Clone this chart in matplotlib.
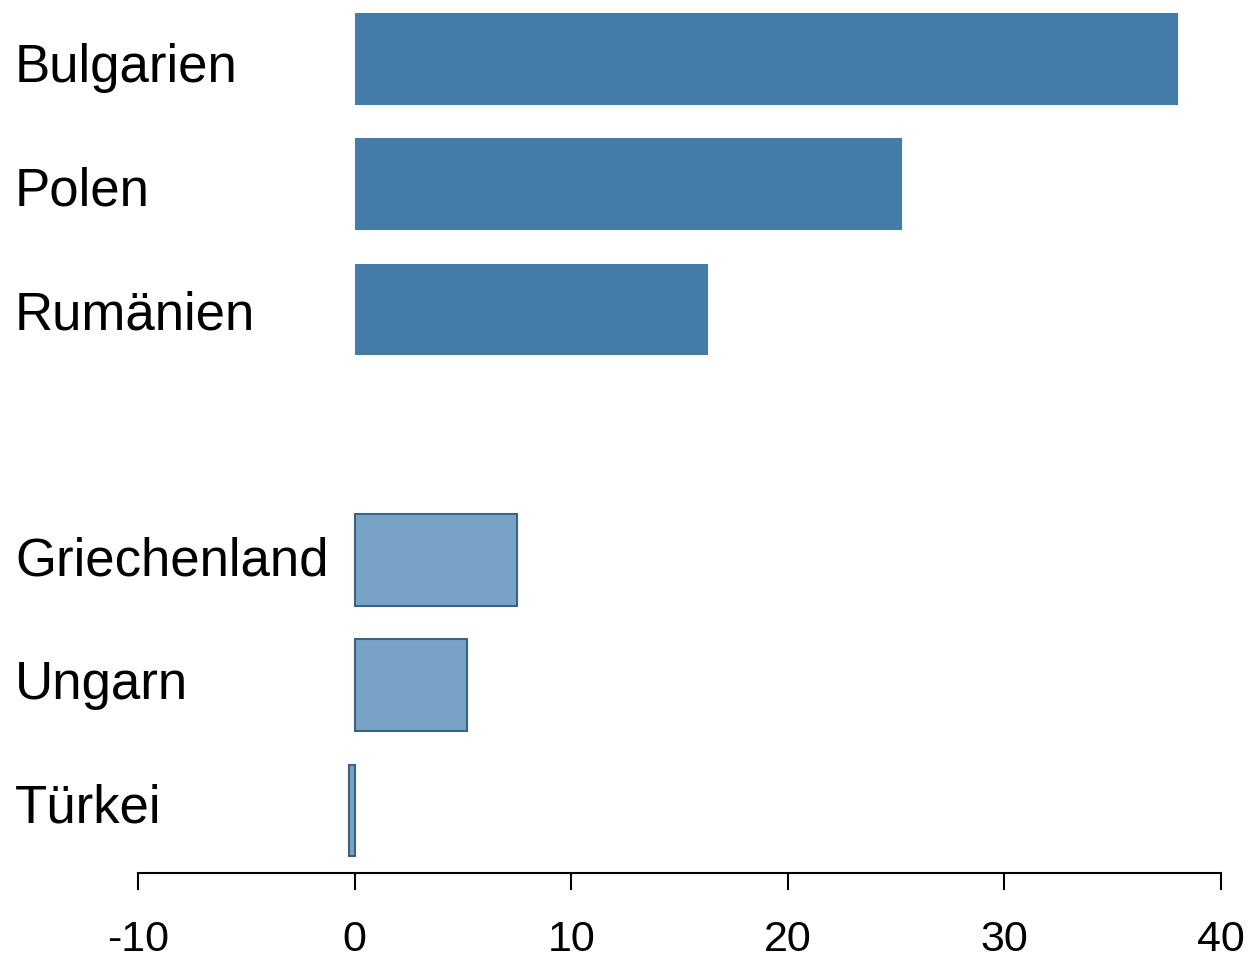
import matplotlib
matplotlib.use('Agg')
import matplotlib.pyplot as plt
from matplotlib.transforms import blended_transform_factory

# Data
countries = ['Bulgarien', 'Polen', 'Rumänien', 'Griechenland', 'Ungarn', 'Türkei']
values = [38.0, 25.25, 16.3, 7.5, 5.17, -0.28]
positions = [0, 1, 2, 4, 5, 6]
group = ['dark', 'dark', 'dark', 'light', 'light', 'light']
xticks = [-10, 0, 10, 20, 30, 40]

plt.rcParams['font.family'] = ['Liberation Sans', 'DejaVu Sans']

fig = plt.figure(figsize=(12.5, 9.58), dpi=100)
ax = fig.add_axes([138 / 1250, 85 / 958, 1083 / 1250, 873 / 958])

for pos, val, g in zip(positions, values, group):
    if g == 'dark':
        ax.barh(pos, val, height=0.73, color='#447CA8', edgecolor='none')
    else:
        ax.barh(pos, val, height=0.73, color='#78A3C7', edgecolor='#3A6186', linewidth=1.5)

ax.set_xlim(-10, 40)
ax.set_ylim(6.5, -0.47)

# country labels at the left edge of the figure, placed by baseline
trans = blended_transform_factory(fig.transFigure, ax.transData)
for pos, name in zip(positions, countries):
    ax.text(15 / 1250, 0.1875 + pos * 0.985, name, transform=trans,
            ha='left', va='baseline', fontsize=38)

for s in ['top', 'right', 'left']:
    ax.spines[s].set_visible(False)
ax.spines['bottom'].set_linewidth(1.5)
ax.set_yticks([])
ax.set_xticks(xticks)
ax.set_xticklabels([str(t) for t in xticks])
ax.tick_params(axis='x', length=12, width=1.5, labelsize=31, pad=22)

fig.savefig('out.png', dpi=100)
